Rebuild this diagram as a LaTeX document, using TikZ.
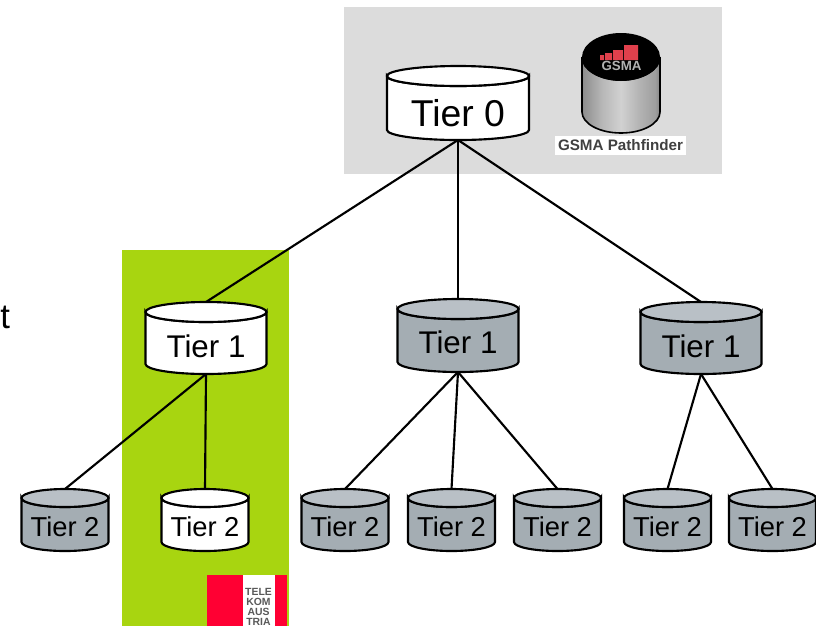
\documentclass[tikz,border=0pt]{standalone}
\usepackage{fontspec}
\setmainfont{Liberation Sans}
\definecolor{tgreen}{HTML}{A8D510}
\definecolor{tbox}{HTML}{DCDCDC}
\definecolor{cylbody}{HTML}{A4ADB3}
\definecolor{cyltop}{HTML}{B9C0C6}
\definecolor{tred}{HTML}{FF0033}
\definecolor{gsmared}{HTML}{E0404C}
\pgfdeclarehorizontalshading{gsmabody}{100bp}{
  color(0bp)=(black!45); color(25bp)=(black!45); color(38bp)=(black!28);
  color(50bp)=(black!18); color(62bp)=(black!30); color(72bp)=(black!38);
  color(75bp)=(black!48); color(90bp)=(black!68); color(100bp)=(black!55)}
% \tiercyl{name}{cx}{top}{bottom}{half width}{ry}{body}{top}{text y}
\newcommand{\tiercyl}[9]{%
  \begin{scope}[shift={(#2,#3)}]
    \path[cylline,fill=#7] (-#5,#6) -- ({-#5},{#4-#3-#6}) arc[start angle=180,end angle=0,x radius=#5,y radius=#6] -- (#5,#6) arc[start angle=0,end angle=180,x radius=#5,y radius=#6] -- cycle;
    \path[cylline,fill=#8] (0,#6) ellipse[x radius=#5,y radius=#6];
    \coordinate (#1-t) at (0,0);
    \coordinate (#1-b) at (0,#4-#3);
  \end{scope}
  \node[tierlabel] (#1) at (#2,{#9}) }
\tikzset{
  cylline/.style={draw=black,line width=1.6pt},
  tierlabel/.style={inner sep=0pt,text=black},
  link/.style={draw=black,line width=1.6pt},
  t0/.style={font=\fontsize{28}{28}\selectfont},
  t1/.style={font=\fontsize{23.5}{24}\selectfont},
  t2/.style={font=\fontsize{20.5}{21}\selectfont},
}
\begin{document}
\begin{tikzpicture}[x=0.75pt,y=-0.75pt]
\useasboundingbox (0,0) rectangle (816,626);
\fill[tbox] (344,7) rectangle (722,174);
\fill[tgreen] (122,250) rectangle (289,626);
\node[anchor=base west,inner sep=0pt,font=\fontsize{26}{26}\selectfont] (cut) at (0,328) {t};

% Telekom Austria logo
\fill[tred] (207,575) rectangle (287,626);
\fill[white] (243,575) rectangle (275,626);
\begin{scope}
\clip (207,575) rectangle (287,626);
\node[inner sep=0pt,align=center,text=black!65,font=\bfseries\fontsize{7.8}{7.6}\selectfont] (telekom) at (258.5,607) {TELE\\KOM\\AUS\\TRIA};
\end{scope}

% GSMA Pathfinder cylinder
\path[shading=gsmabody,draw=black,line width=1.2pt] (582,57) -- (582,112) arc[start angle=180,end angle=0,x radius=39,y radius=21] -- (660,57) arc[start angle=0,end angle=180,x radius=39,y radius=23] -- cycle;
\fill[black] (621,57) ellipse[x radius=39,y radius=24];
\fill[gsmared] (600,55) rectangle (604,60) (605,53) rectangle (612,60) (613,50) rectangle (623,60) (624,45) rectangle (638,60);
\node[inner sep=0pt,text=black!30,font=\bfseries\fontsize{10}{10}\selectfont] (gsmalogo) at (621.5,66) {GSMA};
\node[fill=white,inner sep=0pt,minimum width=98pt,minimum height=14.2pt,text=black!75,font=\bfseries\fontsize{11.4}{12}\selectfont] (gsmaname) at (620.5,145.5) {GSMA Pathfinder};

% Tier cylinders
\tiercyl{a}{458}{66}{140}{71}{10}{white}{white}{113}[t0] {Tier 0};
\tiercyl{b}{206}{302}{374}{60.5}{10}{white}{white}{346}[t1] {Tier 1};
\tiercyl{c}{458}{299}{372}{60.5}{10}{cylbody}{cyltop}{342}[t1] {Tier 1};
\tiercyl{d}{701}{302}{374}{60.5}{10}{cylbody}{cyltop}{346}[t1] {Tier 1};
\tiercyl{e}{65}{489}{551}{43.5}{9}{cylbody}{cyltop}{527}[t2] {Tier 2};
\tiercyl{f}{205}{489}{551}{43.5}{9}{white}{white}{527}[t2] {Tier 2};
\tiercyl{g}{345}{489}{551}{43.5}{9}{cylbody}{cyltop}{527}[t2] {Tier 2};
\tiercyl{h}{451.5}{489}{551}{43.5}{9}{cylbody}{cyltop}{527}[t2] {Tier 2};
\tiercyl{i}{557.5}{489}{551}{43.5}{9}{cylbody}{cyltop}{527}[t2] {Tier 2};
\tiercyl{j}{667.5}{489}{551}{43.5}{9}{cylbody}{cyltop}{527}[t2] {Tier 2};
\tiercyl{k}{772.5}{489}{551}{43.5}{9}{cylbody}{cyltop}{527}[t2] {Tier 2};

% Connectors
\draw[link] (a-b) -- (b-t);
\draw[link] (a-b) -- (c-t);
\draw[link] (a-b) -- (d-t);
\draw[link] (b-b) -- (e-t);
\draw[link] (b-b) -- (f-t);
\draw[link] (c-b) -- (g-t);
\draw[link] (c-b) -- (h-t);
\draw[link] (c-b) -- (i-t);
\draw[link] (d-b) -- (j-t);
\draw[link] (d-b) -- (k-t);
\end{tikzpicture}
\end{document}
